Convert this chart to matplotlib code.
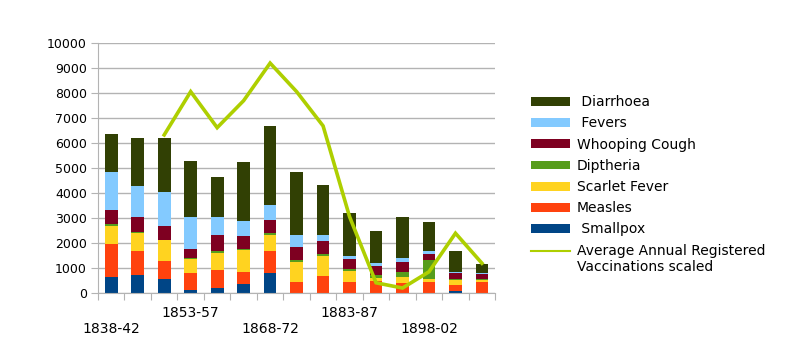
import numpy as np
import matplotlib
matplotlib.use("Agg")
import matplotlib.pyplot as plt
from matplotlib.legend_handler import HandlerLine2D

# ── Data ───────────────────────────────────────────────────────────────────────
periods = ["1838-42", "1843-47", "1848-52", "1853-57", "1858-62", "1863-67",
           "1868-72", "1873-77", "1878-82", "1883-87", "1888-92", "1893-97",
           "1898-02", "1903-07", "1908-12"]

smallpox  = [630, 720, 550, 120, 210, 370, 790, 0, 0, 0, 0, 0, 0, 90, 0]
measles   = [1330, 960, 720, 690, 710, 480, 890, 450, 680, 440, 490, 390, 430, 250, 430]
scarlet   = [720, 700, 830, 550, 690, 880, 640, 800, 800, 440, 130, 240, 120, 170, 90]
diptheria = [90, 50, 20, 50, 70, 50, 70, 70, 80, 80, 110, 230, 770, 40, 40]
whooping  = [550, 600, 570, 370, 640, 490, 530, 530, 520, 390, 360, 370, 250, 240, 200]
fevers    = [1500, 1230, 1350, 1250, 720, 590, 590, 470, 240, 150, 120, 190, 110, 50, 50]
diarrhoea = [1530, 1920, 2170, 2230, 1610, 2370, 3170, 2510, 1990, 1690, 1280, 1610, 1170, 830, 370]

# vaccinations line starts at the third period
vacc_start = 2
vaccinations = [6320, 8050, 6610, 7690, 9190, 8050, 6680, 3050, 410, 200, 850, 2390, 1190]

series = [("Smallpox",       smallpox,  "#004586", " Smallpox"),
          ("Measles",        measles,   "#ff420e", "Measles"),
          ("Scarlet Fever",  scarlet,   "#ffd320", "Scarlet Fever"),
          ("Diptheria",      diptheria, "#579d1c", "Diptheria"),
          ("Whooping Cough", whooping,  "#7e0021", "Whooping Cough"),
          ("Fevers",         fevers,    "#83caff", " Fevers"),
          ("Diarrhoea",      diarrhoea, "#314004", " Diarrhoea")]

grid_c = "#b3b3b3"


class TopLineHandler(HandlerLine2D):
    # put the line key next to the first text line of a two-line label
    def create_artists(self, *args, **kwargs):
        arts = super().create_artists(*args, **kwargs)
        for a in arts:
            a.set_ydata(np.asarray(a.get_ydata()) + 6)
            a.set_linewidth(1.5)
        return arts


# ── Figure ─────────────────────────────────────────────────────────────────────
fig = plt.figure(figsize=(8, 3.6), dpi=100, facecolor="white")
ax = fig.add_axes([0.1225, 0.186, 0.4965, 0.695])

x = np.arange(len(periods))
bottom = np.zeros(len(periods))
handles = {}
for name, vals, col, lab in series:
    bars = ax.bar(x, vals, width=0.48, bottom=bottom, color=col, zorder=2)
    handles[lab] = bars
    bottom += np.array(vals)

line, = ax.plot(x[vacc_start:], vaccinations, color="#aecf00", lw=2.6,
                zorder=3, solid_joinstyle="miter")

ax.set_xlim(-0.5, len(periods) - 0.5)
ax.set_ylim(0, 10000)
ax.set_yticks(np.arange(0, 10001, 1000))
ax.yaxis.grid(True, color=grid_c, lw=1, zorder=0)
ax.tick_params(axis="y", colors=grid_c, length=5, labelsize=9,
               labelcolor="black", pad=3)

# category boundaries as ticks, labels on every third category, staggered
ax.set_xticks(np.arange(-0.5, len(periods), 1))
ax.set_xticklabels([])
ax.tick_params(axis="x", which="major", colors=grid_c, length=5)
lab_pos = x[::3]
lab_txt = []
for i, p in enumerate(lab_pos):
    lab_txt.append(("\n" + periods[p]) if i % 2 == 0 else periods[p])
ax.set_xticks(lab_pos, minor=True)
ax.set_xticklabels(lab_txt, minor=True, fontsize=10, linespacing=1.25)
ax.tick_params(axis="x", which="minor", length=0, pad=9)

for s in ["top", "right"]:
    ax.spines[s].set_visible(False)
for s in ["left", "bottom"]:
    ax.spines[s].set_color(grid_c)

# ── Legend (top series first) ─────────────────────────────────────────────────
order = [s[3] for s in series][::-1]
h = [handles[k] for k in order] + [line]
l = order + ["Average Annual Registered\nVaccinations scaled"]
leg = fig.legend(h, l, loc="upper left", bbox_to_anchor=(0.655, 0.755),
                 frameon=False, fontsize=10, handlelength=2.8, handleheight=0.6,
                 labelspacing=0.52, handletextpad=0.5, borderpad=0,
                 handler_map={line: TopLineHandler()})

plt.savefig("out.png", dpi=100, facecolor="white")
plt.close()
